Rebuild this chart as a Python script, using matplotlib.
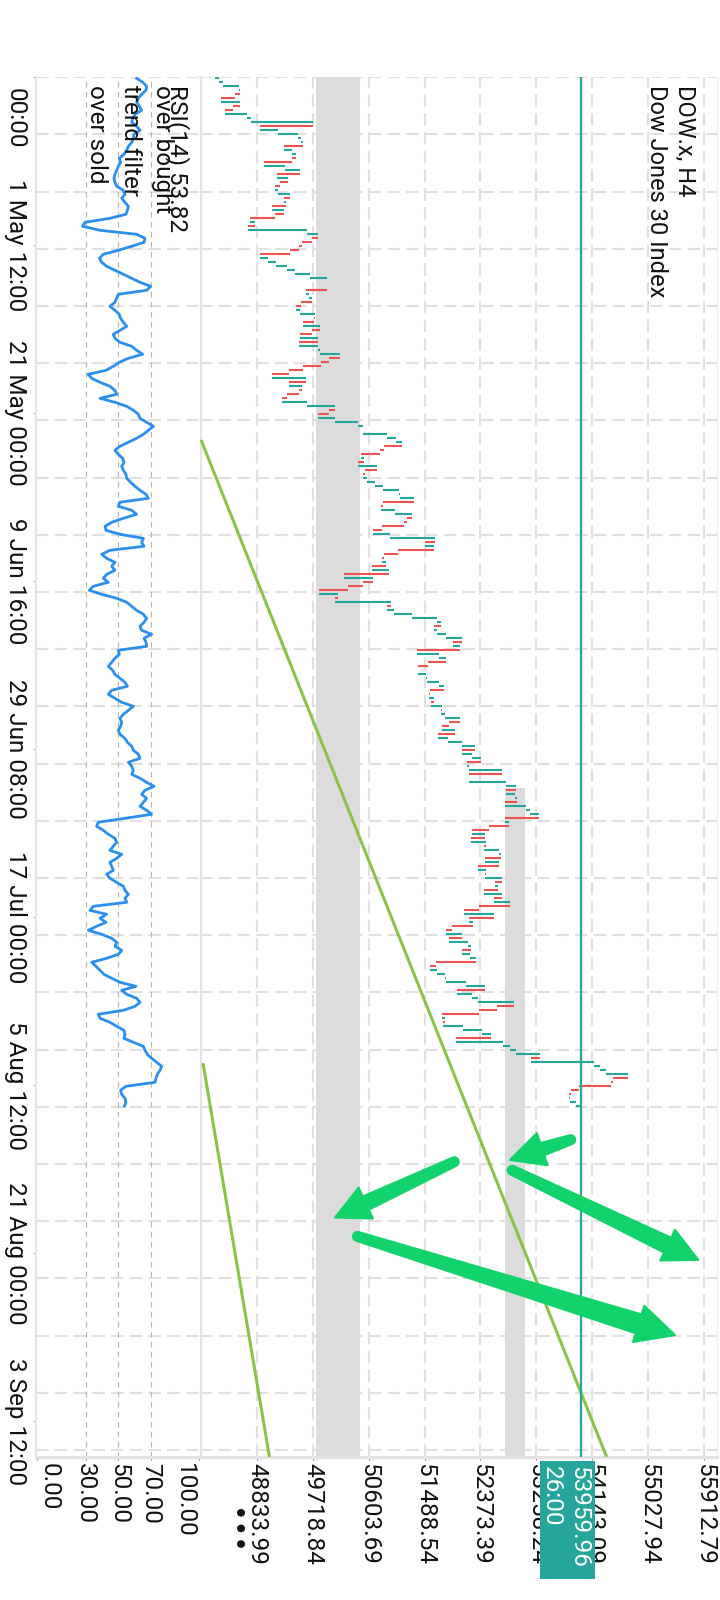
import numpy as np
import matplotlib
matplotlib.use("Agg")
import matplotlib.pyplot as plt
from matplotlib.patches import Polygon, Rectangle
from matplotlib.transforms import IdentityTransform, blended_transform_factory, offset_copy

plt.rcParams['font.family'] = ['Roboto', 'DejaVu Sans']

# ---------------- data ----------------
first_open = 48175
close = [
    48243, 48296, 48554, 48570, 48491, 48270, 48570, 48465, 48338, 48675,
    48739, 49729, 48886, 49176, 49481, 49534, 49560, 49271, 49386, 49455,
    49392, 48949, 49281, 49518, 49160, 49334, 49202, 49123, 49176, 49360,
    49271, 49297, 49081, 49265, 49123, 48728, 48807, 48702, 49623, 49797,
    49708, 49555, 49508, 49360, 48886, 49018, 49139, 49307, 49439, 49676,
    49939, 49939, 49950, 49613, 49660, 49702, 49534, 49455, 49518, 49755,
    49739, 49571, 49834, 49713, 49518, 49808,
    49508, 49808, 49834, 50150, 49982, 49850, 49571, 49350, 49081, 49608,
    49344, 49550, 49502, 49307, 49228, 49623, 50071, 49982, 49808, 50071,
    50429, 50508, 50519, 50888, 51035, 51125, 50845, 50782, 50482, 50529,
    50440, 50730, 50545, 50508, 50572, 50703, 50824, 51082, 51098, 51319,
    50824, 50803, 51019, 51283, 51214, 51161, 50819, 50677, 50940, 51651,
    51488, 51635, 51072, 50851, 50819, 50877, 50650, 50924, 50219, 50677,
    50508, 50271, 49824, 50124, 50071, 50956, 50898, 51003, 51283, 51678,
    51741, 51641, 51678, 51825, 52073, 51941, 52046, 51372, 51714, 51825,
    51546, 51388, 51388, 51509, 51530, 51714, 51793, 51572, 51556, 51635,
    51583, 51772, 51741, 51809, 52057, 51872, 51767, 51967, 51704, 51862,
    52088, 52294, 52073, 52246, 52378, 52167, 52188, 52720, 52188, 52188,
    52784, 52931, 52773, 52915, 52952, 52768, 53089, 53152, 53295, 52757,
    52821, 52510, 52246, 52441, 52220, 52468, 52425, 52668, 52705, 52441,
    52668, 52336, 52468, 52441, 52720, 52599, 52652,
    52431, 52720, 52589, 52847, 52352, 52109, 52589, 52194, 52257, 51915,
    51820, 52088, 51878, 52178, 52220, 52073, 52204, 52299, 51667, 51572,
    51678, 51809, 51825, 52152, 52441, 52009, 52246, 52341, 52905, 52636,
    52352, 51757, 51809, 51783, 52099, 52404, 52547, 51983, 52731, 52847,
    52931, 53310, 53179, 54169, 54269, 54353, 54700, 54469, 54432, 53932,
    53811, 53769, 53784, 53879, 53960,
]
rsi = [
    61.4, 65.2, 67.6, 67.2, 64.5, 62.5, 61.4, 63.1, 64.5, 60.4,
    59.0, 58.4, 61.4, 63.5, 59.8, 59.4, 58.4, 56.3, 55.3, 53.6,
    50.7, 51.5, 50.1, 49.1, 48.0, 47.4, 48.0, 49.1, 53.2, 54.2,
    52.2, 54.2, 56.3, 55.7, 54.8, 44.9, 29.5, 28.0, 38.8, 61.4,
    66.6, 66.0, 58.4, 50.1, 40.8, 38.4, 39.8, 42.9, 48.0, 53.2,
    58.4, 63.5, 70.1, 67.6, 50.1, 49.1, 48.0, 44.9, 48.0, 50.7,
    51.5, 53.2, 55.3, 51.1, 47.0, 48.0, 51.1, 58.4, 61.4, 65.2,
    56.3, 50.7, 47.0, 42.5, 31.5, 33.6, 38.8, 44.9, 48.0, 49.1,
    38.8, 48.0, 55.3, 59.4, 62.5, 63.5, 67.6, 71.8, 68.7, 65.6,
    61.4, 56.3, 51.1, 48.0, 50.1, 52.8, 53.6, 52.2, 53.2, 54.8,
    55.3,
    57.7, 60.4, 63.5, 67.2, 68.7, 51.1, 50.1, 58.4, 61.4,
    53.2, 46.0, 41.9, 42.5, 51.1, 65.6, 64.5, 66.0, 44.9, 39.8,
    42.9, 48.0, 46.0, 48.0, 42.9, 40.8, 43.9, 34.6, 32.2, 39.8,
    49.1, 55.3, 58.4, 61.4, 65.6, 67.6, 66.0, 63.5, 64.5, 70.7,
    66.0, 67.2, 67.6, 50.1, 50.7, 48.0, 46.0, 43.9, 46.6, 48.0,
    51.1, 54.2, 55.7, 46.0, 43.9, 48.0, 52.2, 59.4, 56.3, 53.2,
    51.1, 52.2, 51.5, 50.1, 51.1, 54.2, 55.7, 58.4, 59.4, 62.5,
    63.5, 56.3, 58.4, 59.4, 58.4, 63.5, 67.6, 72.2, 66.6, 64.5,
    67.6, 65.6, 63.5, 67.6, 70.7, 54.2, 37.7, 36.7, 40.8, 43.9,
    48.0, 49.1, 47.0, 44.9, 52.2, 49.1, 44.9, 46.0, 47.0, 42.9,
    44.9, 49.1, 53.2, 54.2, 56.3, 54.2, 55.3, 34.6, 32.6, 42.9,
    38.8, 42.5, 36.7, 31.5, 39.8, 46.0, 49.1, 48.0, 52.2, 50.1,
    42.9, 33.6, 36.3, 38.8, 41.2, 46.0, 51.1, 61.0, 52.2, 55.3,
    61.4, 63.5, 60.4, 53.2, 37.7, 38.8, 44.9, 49.1, 53.6, 54.2,
    53.6, 59.4, 65.6, 66.6, 68.0, 70.7, 73.8, 76.9, 75.9, 74.2,
    73.4, 72.8, 54.8, 51.5, 52.2, 54.2, 54.8, 53.8,
]
price_ticks = [48833.99, 49718.84, 50603.69, 51488.54, 52373.39,
               53258.24, 54143.09, 55027.94, 55912.79]
rsi_ticks = [0, 30, 50, 70, 100]
rsi_tick_labels = ["0.00", "30.00", "50.00", "70.00", "100.00"]
rsi_levels = [30, 50, 70]
date_labels = ["00:00", "1 May 12:00", "21 May 00:00", "9 Jun 16:00",
               "29 Jun 08:00", "17 Jul 00:00", "5 Aug 12:00",
               "21 Aug 00:00", "3 Sep 12:00"]
date_pos = [-0.3, 41.7, 83.7, 125.7, 167.7, 209.7, 251.7, 293.7, 335.7]

zone_lo = [49771, 52760]
zone_hi = [50467, 53077]
zone_start = [-0.4, 177.4]

trend_p0 = [47953, 47984]
trend_t0 = [90.4, 246.2]
trend_p1 = [54369, 49036]
trend_t1 = [344.7, 344.7]

arrow_tail_p = [53868, 52022, 52810, 50361]
arrow_tail_t = [265.0, 270.4, 272.5, 289.2]
arrow_tip_p = [52840, 50072, 55818, 55449]
arrow_tip_t = [270.4, 284.8, 295.4, 314.2]

last_price = 53959.96
countdown = "26:00"
rsi_last = 53.82
title1 = "DOW.x, H4"
title2 = "Dow Jones 30 Index"
rsi_legend = [f"RSI(14) {rsi_last:.2f}", "over bought", "trend filter", "over sold"]

# ---------------- style ----------------
TEAL = "#26a69a"
RED = "#ef5350"
GREEN_LINE = "#8bc34a"
ARROW = "#12d26b"
BLUE = "#2b8ff0"
GRID = dict(color="#e0e0e0", lw=1.5, linestyle=(0, (6, 3)))
FS = 17.5

W, H = 720, 1600
fig = plt.figure(figsize=(W / 100, H / 100), dpi=100)
fig.patch.set_facecolor("white")


def fx(px):
    return px / W


def fy(py):
    return 1 - py / H


top_px, bot_px = 76.7, 1457.1
axm = fig.add_axes([fx(200), fy(bot_px), (717 - 200) / W, (bot_px - top_px) / H])
axr = fig.add_axes([fx(36), fy(bot_px), (200 - 36) / W, (bot_px - top_px) / H], sharey=axm)

axm.set_xlim(47937, 56114)
axm.set_ylim(344.7, -0.4)
axr.set_xlim(-0.8, 100.6)

# grid
axm.set_yticks(np.arange(-0.25, 345, 14.3), minor=True)
axm.set_yticks(date_pos)
for a in (axm, axr):
    a.grid(which="minor", axis="y", **GRID)
    a.set_axisbelow(True)
axm.set_xticks(price_ticks)
axm.set_xticklabels([f"{p:.2f}" for p in price_ticks], rotation=-90, fontsize=FS)
axm.grid(which="major", axis="x", **GRID)

for v in rsi_levels:
    axr.axvline(v, color="#b5b5b5", lw=0.8, linestyle=(0, (5, 4)), zorder=1.6)

# zones
for lo, hi, st in zip(zone_lo, zone_hi, zone_start):
    axm.add_patch(Rectangle((lo, st), hi - lo, 346 - st, fc="#dcdcdc", ec="none", zorder=1))

# price bars
cl = np.array(close, dtype=float)
op = np.r_[first_open, cl[:-1]]
idx = np.arange(len(cl))
cols = np.where(cl >= op, TEAL, RED)
axm.hlines(idx, np.minimum(op, cl), np.maximum(op, cl), colors=cols, lw=1.5, zorder=3)

# trend lines
for p0, t0, p1, t1 in zip(trend_p0, trend_t0, trend_p1, trend_t1):
    axm.plot([p0, p1], [t0, t1], color=GREEN_LINE, lw=2.2, zorder=4, solid_capstyle="butt")

# current price line
axm.axvline(last_price, color=TEAL, lw=1.6, zorder=5)

# RSI line
axr.plot(rsi, idx, color=BLUE, lw=2.0, zorder=3, solid_joinstyle="round")

# spines
for a in (axm, axr):
    a.spines["top"].set_visible(False)
    a.spines["bottom"].set_color("#e2e2e2")
    a.spines["bottom"].set_linewidth(2.2)
axm.spines["left"].set_color("#e4e4e4")
axm.spines["left"].set_linewidth(2.4)
axm.spines["right"].set_color("#f0f0f0")
axm.spines["right"].set_linewidth(1.0)
axr.spines["right"].set_visible(False)
axr.spines["left"].set_color("#e4e4e4")
axr.spines["left"].set_linewidth(1.5)

axm.tick_params(axis="y", which="both", left=False, right=False, labelleft=False)
axm.tick_params(axis="x", which="major", length=2.2, width=0.8, color="#888888", pad=2.2,
                labelcolor="#111111")
axr.set_xticks(rsi_ticks)
axr.tick_params(axis="x", which="major", length=2.2, width=0.8, color="#888888", labelbottom=False)
axr.tick_params(axis="y", which="major", length=2.2, width=0.8, color="#aaaaaa", labelleft=False)
axr.tick_params(axis="y", which="minor", length=0)

# RSI tick labels (kept inside panel at the ends)
rsi_shift = [12, 0, 0, 0, -15]
btrans = blended_transform_factory(axr.transData, fig.transFigure)
for v, lab, dx in zip(rsi_ticks, rsi_tick_labels, rsi_shift):
    axr.text(v, fy(1463), lab, transform=offset_copy(btrans, fig=fig, x=dx, y=0, units="dots"),
             rotation=-90, ha="center", va="top", fontsize=FS, color="#111111", clip_on=False)

# date labels
dtrans = blended_transform_factory(fig.transFigure, axr.transData)
for k, (pos, lab) in enumerate(zip(date_pos, date_labels)):
    if k == 0:
        axr.text(fx(15), pos, lab, transform=offset_copy(dtrans, fig=fig, x=0, y=-11, units="dots"),
                 rotation=-90, ha="center", va="top", fontsize=FS, color="#111111", clip_on=False)
    else:
        axr.text(fx(15), pos, lab, transform=dtrans, rotation=-90, ha="center", va="center",
                 fontsize=FS, color="#111111", clip_on=False)

# titles
fig.text(fx(684.5), fy(85), title1, rotation=-90, ha="center", va="top", fontsize=17, color="#111111")
fig.text(fx(656.5), fy(85), title2, rotation=-90, ha="center", va="top", fontsize=17, color="#111111")

# RSI legend
for xc, s in zip([177, 162.5, 130, 96], rsi_legend):
    fig.text(fx(xc), fy(85), s, rotation=-90, ha="center", va="top", fontsize=FS, color="#111111")

# more dots
fig.text(fx(233), fy(1531), "•••", rotation=-90, ha="center", va="center", fontsize=19,
         family="DejaVu Sans", color="#111111")

# current price label box
xpix = axm.transData.transform((last_price, 0))[0]
fig.add_artist(Rectangle((xpix - 41, H - 1579), 55, 118, transform=IdentityTransform(),
                         fc=TEAL, ec="none", zorder=20))
fig.text((xpix - 2) / W, fy(1466), f"{last_price:.2f}", rotation=-90, ha="center", va="top",
         fontsize=FS, color="white", zorder=21)
fig.text((xpix - 29) / W, fy(1466), countdown, rotation=-90, ha="center", va="top",
         fontsize=FS, color="white", zorder=21)


# arrows
def arrow_poly(p0, p1, w0, w1, hw, hl):
    p0 = np.asarray(p0, float)
    p1 = np.asarray(p1, float)
    d = p1 - p0
    L = np.hypot(*d)
    u = d / L
    n = np.array([-u[1], u[0]])
    p0 = p0 + u * w0
    base = p1 - u * hl
    angs = np.linspace(np.pi / 2, 3 * np.pi / 2, 14)
    pts = [p0 + w0 * (np.cos(a) * u + np.sin(a) * n) for a in angs]
    pts += [base - w1 * n, base - hw / 2 * n, p1, base + hw / 2 * n, base + w1 * n]
    return np.array(pts)


for tp, tt, hp, ht in zip(arrow_tail_p, arrow_tail_t, arrow_tip_p, arrow_tip_t):
    a0 = axm.transData.transform((tp, tt))
    a1 = axm.transData.transform((hp, ht))
    L = np.hypot(*(a1 - a0))
    hw = 34 if L < 300 else 38
    pts = arrow_poly(a0, a1, 4.5, 5.5 + 0.013 * L, hw, hw)
    fig.add_artist(Polygon(pts, closed=True, transform=IdentityTransform(), fc=ARROW, ec=ARROW,
                           lw=1.5, joinstyle="round", zorder=15))

fig.savefig("out.png", dpi=100, facecolor="white")
